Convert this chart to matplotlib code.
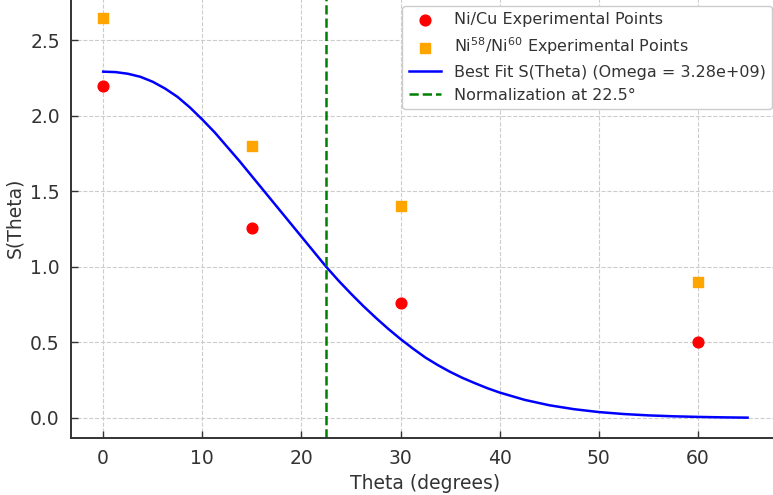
import numpy as np
import matplotlib.pyplot as plt

# =============================================================================
# Data
# =============================================================================
theta_pts = [0, 15, 30, 60]
s_nicu = [2.20, 1.26, 0.76, 0.50]
s_ni5860 = [2.65, 1.80, 1.40, 0.90]

# best fit curve, sampled every 1.25 deg up to 40, then every 2.5 deg
theta_fit = [0, 1.25, 2.5, 3.75, 5, 6.25, 7.5, 8.75, 10, 11.25, 12.5, 13.75,
             15, 16.25, 17.5, 18.75, 20, 21.25, 22.5, 23.75, 25, 26.25, 27.5,
             28.75, 30, 31.25, 32.5, 33.75, 35, 36.25, 37.5, 38.75, 40, 42.5,
             45, 47.5, 50, 52.5, 55, 57.5, 60, 62.5, 65]
s_fit = [2.292, 2.289, 2.278, 2.258, 2.225, 2.18, 2.125, 2.055, 1.975, 1.89,
         1.795, 1.70, 1.60, 1.50, 1.40, 1.30, 1.20, 1.10, 1.00, 0.908, 0.822,
         0.74, 0.663, 0.59, 0.522, 0.459, 0.40, 0.35, 0.305, 0.265, 0.23,
         0.197, 0.168, 0.12, 0.084, 0.058, 0.039, 0.026, 0.017, 0.011,
         0.007, 0.004, 0.002]
theta_norm = 22.5

# =============================================================================
# Plot
# =============================================================================
fig = plt.figure(figsize=(7.73, 4.95), dpi=100)
ax = fig.add_axes([0.0918, 0.1152, 0.917, 0.889])

ax.scatter(theta_pts, s_nicu, color='red', s=60, zorder=3,
           label='Ni/Cu Experimental Points')
ax.scatter(theta_pts, s_ni5860, color='orange', marker='s', s=60, zorder=3,
           label='Ni$^{58}$/Ni$^{60}$ Experimental Points')
ax.plot(theta_fit, s_fit, color='blue', lw=1.8,
        label='Best Fit S(Theta) (Omega = 3.28e+09)')
ax.axvline(theta_norm, color='green', ls='--', lw=1.8,
           label='Normalization at 22.5°')

ax.set_xlim(-3.25, 68.25)
ax.set_ylim(-0.1325, 2.78)
ax.set_xticks([0, 10, 20, 30, 40, 50, 60])
ax.set_yticks([0.0, 0.5, 1.0, 1.5, 2.0, 2.5])
ax.set_xlabel('Theta (degrees)', fontsize=13.5, color='#333333')
ax.set_ylabel('S(Theta)', fontsize=13.5, color='#333333')
ax.tick_params(direction='in', length=5, width=1, labelsize=13.5,
               colors='#333333', pad=8)
ax.grid(True, ls='--', color='#cccccc', lw=0.8)
for sp in ax.spines.values():
    sp.set_color('#333333')
    sp.set_linewidth(1.4)

ax.legend(loc='upper right', fontsize=11.5, framealpha=1, edgecolor='#cccccc',
          labelcolor='#333333')
fig.savefig('out.png', dpi=100)
